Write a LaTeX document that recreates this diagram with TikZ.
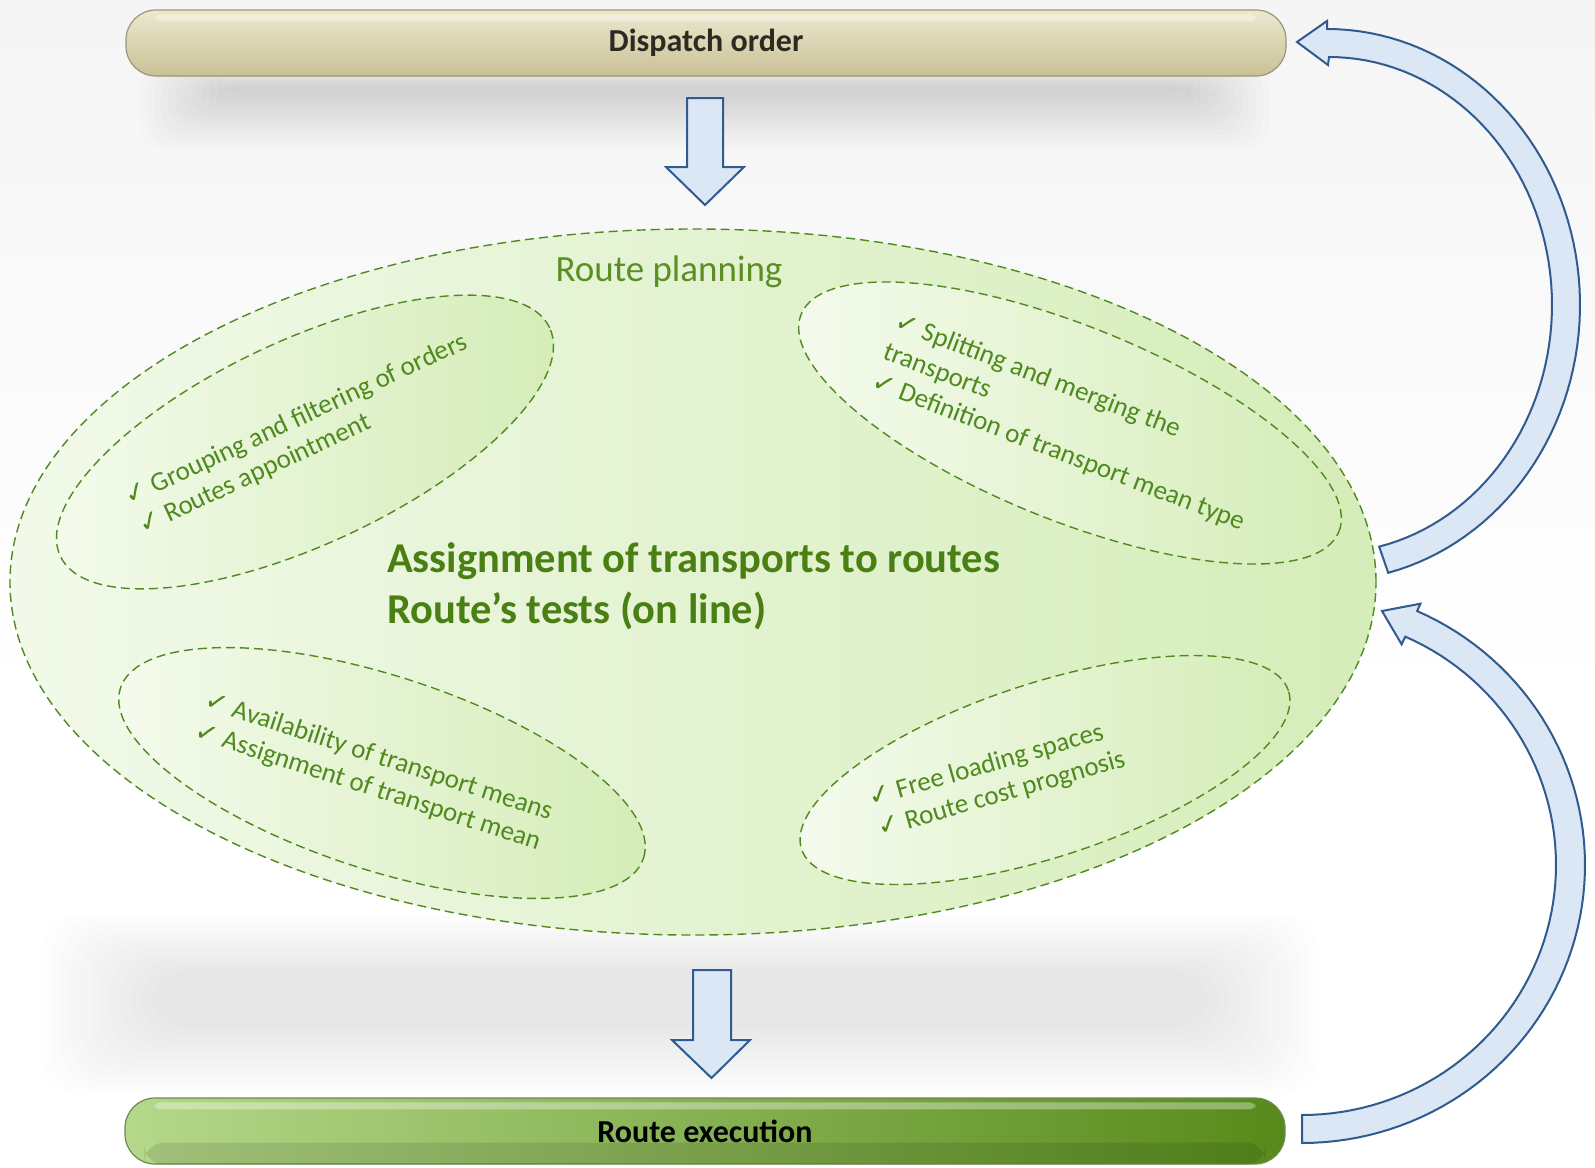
\documentclass[tikz,border=0pt]{standalone}
\usepackage{fontspec}
\setmainfont{Carlito}
\newfontfamily\symfont{DejaVu Sans}
\usetikzlibrary{shapes.geometric}

\definecolor{frameblue}{HTML}{2F5B8E}
\definecolor{arrowfill}{HTML}{DCE7F5}
\definecolor{leaf}{HTML}{4F8A1E}
\definecolor{leafdark}{HTML}{4A7F14}
\definecolor{leaftitle}{HTML}{5B8F26}
\definecolor{zonelight}{HTML}{F5FBEE}
\definecolor{zonedark}{HTML}{D4ECB6}
\definecolor{planlight}{HTML}{F2F9EA}
\definecolor{plandark}{HTML}{D5EDB9}
\definecolor{tanlight}{HTML}{EDE9D0}
\definecolor{tandark}{HTML}{C8C095}
\definecolor{tanedge}{HTML}{9C9679}
\definecolor{grasslight}{HTML}{B5D88A}
\definecolor{grassdark}{HTML}{578A1A}
\definecolor{grassedge}{HTML}{6E8A4E}

\pgfdeclareverticalshading{pagebg}{100bp}{color(0bp)=(white); color(45bp)=(white); color(75bp)=(black!4); color(100bp)=(black!9)}

\newcommand\ck{{\symfont\fontsize{27}{27}\selectfont ✓}}

\begin{document}
\begin{tikzpicture}[x=1pt,y=-1pt,
  bar/.style={rounded corners=30pt, minimum width=1160pt, minimum height=66pt,
    line width=1.2pt, inner sep=0pt, font=\fontsize{32}{36}\selectfont\bfseries},
  blockarrow/.style={draw=frameblue, fill=arrowfill, line width=2pt, line join=miter},
  zone/.style={ellipse, draw=leaf, dash pattern=on 9pt off 5pt, line width=1.4pt,
    left color=zonelight, right color=zonedark, inner sep=0pt},
  itemtext/.style={text=leaf, align=left, inner sep=0pt,
    font=\fontsize{27}{32}\selectfont}
]
\useasboundingbox (0,0) rectangle (1595,1167);
\shade[shading=pagebg] (0,0) rectangle (1595,1167);

% soft shadows under the top bar and under the planning ellipse
\foreach \i in {0,...,11}
  \fill[black, opacity=0.012, rounded corners=25pt]
    (140+\i*7, 64+\i*2) rectangle (1270-\i*7, 150-\i*5);
\foreach \i in {0,...,11}
  \fill[black, opacity=0.009, rounded corners=40pt]
    (40+\i*10, 915+\i*5) rectangle (1320-\i*10, 1095-\i*6);

% top and bottom bars
\node[bar, draw=tanedge, top color=tanlight, bottom color=tandark, text=black!78!tandark]
  (dispatch) at (706,43) {\raisebox{-3pt}{Dispatch order}};
\fill[white, opacity=0.35, rounded corners=6pt]
  ([xshift=30pt,yshift=-5pt]dispatch.north west) rectangle ([xshift=-30pt,yshift=-12pt]dispatch.north east);

\node[bar, draw=grassedge, left color=grasslight, right color=grassdark, text=black]
  (execution) at (705,1131) {\raisebox{-3pt}{Route execution}};
\fill[white, opacity=0.35, rounded corners=6pt]
  ([xshift=30pt,yshift=-5pt]execution.north west) rectangle ([xshift=-30pt,yshift=-12pt]execution.north east);
\fill[black, opacity=0.10, rounded corners=20pt]
  ([xshift=20pt,yshift=22pt]execution.south west) rectangle ([xshift=-20pt]execution.south east);

% route planning area
\node[zone, left color=planlight, right color=plandark, minimum width=1366pt, minimum height=706pt]
  (planning) at (693,582) {};
\node[text=leaftitle, font=\fontsize{37}{40}\selectfont, anchor=base]
  (planningtitle) at (669,281) {Route planning};

% sub-task zones
\node[zone, rotate=25, minimum width=540pt, minimum height=204pt] (grouping) at (305,442) {};
\node[zone, rotate=-22, minimum width=580pt, minimum height=194pt] (splitting) at (1070,423) {};
\node[zone, rotate=-18, minimum width=550pt, minimum height=194pt] (means) at (382,773) {};
\node[zone, rotate=18, minimum width=512pt, minimum height=174pt] (loading) at (1045,770) {};

% item lists, each placed by the baseline of its last line
\node[itemtext, rotate=25, anchor=base west] (groupingtext) at (143,535)
  {\ck\ Grouping and filtering of orders\\\ck\ Routes appointment};
\node[itemtext, rotate=-21, anchor=base west] (splittingtext) at (870,388)
  {\ck\ Splitting and merging the\\transports\\\ck\ Definition of transport mean type};
\node[itemtext, rotate=-18, anchor=base west] (meanstext) at (193,738)
  {\ck\ Availability of transport means\\\ck\ Assignment of transport mean};
\node[itemtext, rotate=16, anchor=base west] (loadingtext) at (880,837)
  {\ck\ Free loading spaces\\\ck\ Route cost prognosis};

\node[text=leafdark, align=left, anchor=base west, inner sep=0pt,
  font=\fontsize{42.5}{51}\selectfont\bfseries] (core) at (387,623)
  {Assignment of transports to routes\\Route’s tests (on line)};

% straight flow arrows
\draw[blockarrow] (687,98) -- (723,98) -- (723,167) -- (744,167) -- (705,205)
  -- (666,167) -- (687,167) -- cycle;
\draw[blockarrow] (693,970) -- (731,970) -- (731,1040) -- (750,1040) -- (711.5,1078)
  -- (672,1040) -- (693,1040) -- cycle;

% feedback arrows on the right
\draw[blockarrow]
  plot[domain=76:-90, samples=70] ({1327+253*cos(\x)},{305+276*sin(\x)})
  -- (1327,21) -- (1297,42) -- (1328,65)
  -- plot[domain=-90:77, samples=70] ({1329+223*cos(\x)},{305+248*sin(\x)}) -- cycle;
\draw[blockarrow]
  plot[domain=90:-66, samples=70] ({1302+254*cos(\x)},{865+250*sin(\x)})
  -- (1401.6,644.3) -- (1382,611) -- (1420.4,603.7)
  -- plot[domain=-66:90, samples=70] ({1302+283*cos(\x)},{865+278*sin(\x)}) -- cycle;
\end{tikzpicture}
\end{document}
